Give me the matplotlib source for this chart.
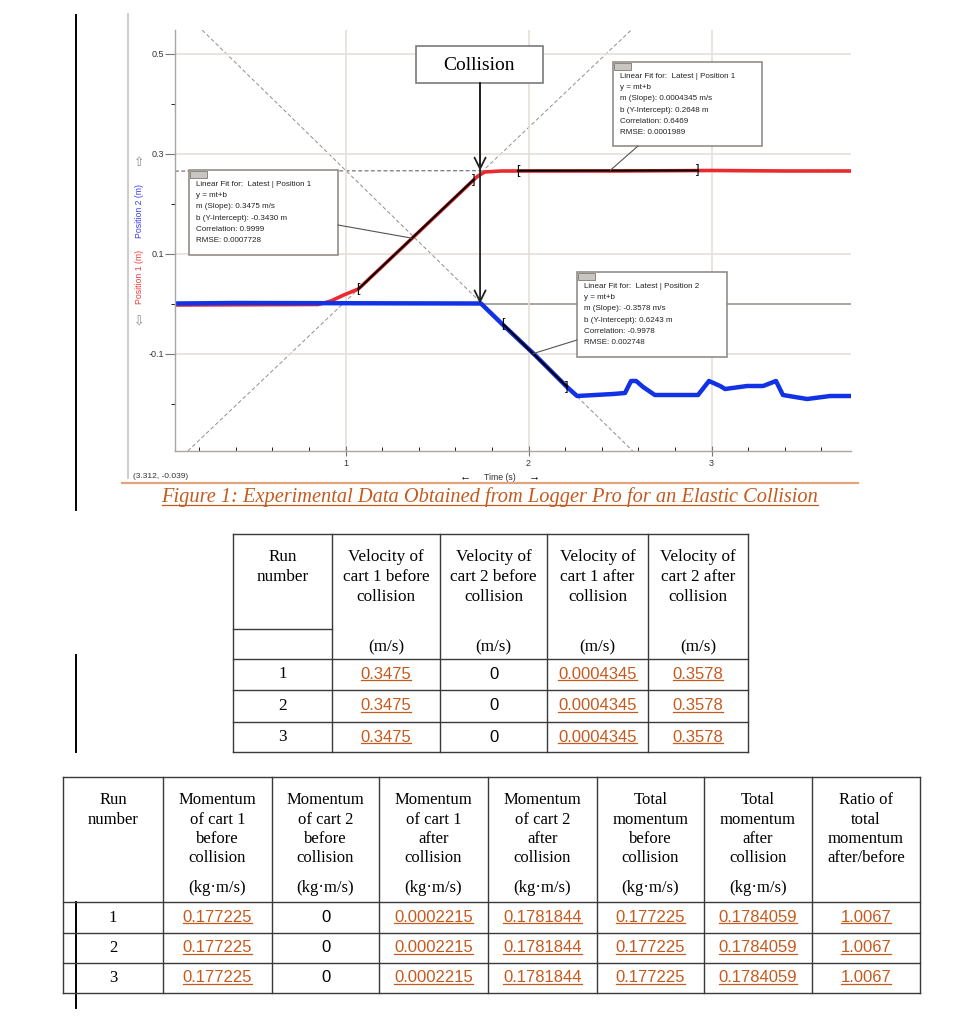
import numpy as np
import matplotlib
matplotlib.use('Agg')
import matplotlib.pyplot as plt
from matplotlib.patches import Rectangle, ConnectionPatch


# Logger Pro graph
red_t = [0.068, 0.85, 0.92, 0.99, 1.07, 1.40, 1.72, 1.76, 1.85, 2.50, 3.00, 3.40, 3.762]
red_y = [-0.003, -0.002, 0.005, 0.017, 0.029, 0.143, 0.254, 0.263, 0.265, 0.265, 0.266, 0.265, 0.265]

blue_t = [0.068, 0.40, 1.74, 1.861, 2.035, 2.21, 2.265, 2.462, 2.527, 2.56, 2.588, 2.626,
          2.69, 2.926, 2.986, 3.047, 3.074, 3.194, 3.282, 3.352, 3.39, 3.522, 3.648, 3.762]
blue_y = [0.0, 0.001, 0.0, -0.043, -0.103, -0.167, -0.185, -0.181, -0.179, -0.155, -0.155, -0.167,
          -0.183, -0.183, -0.155, -0.165, -0.171, -0.165, -0.165, -0.155, -0.183, -0.191, -0.185, -0.185]

fit_series = ['Position 1', 'Position 1', 'Position 2']
fit_slope = [0.3475, 0.0004345, -0.3578]
fit_icept = [-0.3430, 0.2648, 0.6243]
fit_corr = ['0.9999', '0.6469', '-0.9978']
fit_rmse = ['0.0007728', '0.0001989', '0.002748']
fit_start = [1.07, 1.943, 1.861]
fit_end = [1.70, 2.926, 2.21]
fit_point = [1.363, 2.445, 2.025]      # where the leader line of each box lands
collision_t = 1.735
cursor_text = '(3.312, -0.039)'

# tables
runs = [1, 2, 3]
v1_before = [0.3475, 0.3475, 0.3475]
v2_before = [0, 0, 0]
v1_after = [0.0004345, 0.0004345, 0.0004345]
v2_after = [0.3578, 0.3578, 0.3578]

p1_before = [0.177225, 0.177225, 0.177225]
p2_before = [0, 0, 0]
p1_after = [0.0002215, 0.0002215, 0.0002215]
p2_after = [0.1781844, 0.1781844, 0.1781844]
ptot_before = [0.177225, 0.177225, 0.177225]
ptot_after = [0.1784059, 0.1784059, 0.1784059]
ratio = [1.0067, 1.0067, 1.0067]

t1_head = [['Run', 'number'], ['Velocity of', 'cart 1 before', 'collision'],
           ['Velocity of', 'cart 2 before', 'collision'], ['Velocity of', 'cart 1 after', 'collision'],
           ['Velocity of', 'cart 2 after', 'collision']]
t1_units = ['', '(m/s)', '(m/s)', '(m/s)', '(m/s)']
t2_head = [['Run', 'number'], ['Momentum', 'of cart 1', 'before', 'collision'],
           ['Momentum', 'of cart 2', 'before', 'collision'], ['Momentum', 'of cart 1', 'after', 'collision'],
           ['Momentum', 'of cart 2', 'after', 'collision'], ['Total', 'momentum', 'before', 'collision'],
           ['Total', 'momentum', 'after', 'collision'], ['Ratio of', 'total', 'momentum', 'after/before']]
t2_units = ['', '(kg\u00b7m/s)', '(kg\u00b7m/s)', '(kg\u00b7m/s)', '(kg\u00b7m/s)', '(kg\u00b7m/s)',
            '(kg\u00b7m/s)', '']

caption = 'Figure 1: Experimental Data Obtained from Logger Pro for an Elastic Collision'

ORANGE = '#c55a1e'
SERIF = 'Liberation Serif'
SANS = ['Liberation Sans', 'DejaVu Sans']

fig = plt.figure(figsize=(9.75, 10.24), dpi=100)
W, H = 975, 1024


def px_axes(x0, y0, x1, y1, **kw):
    return fig.add_axes([x0 / W, 1 - y1 / H, (x1 - x0) / W, (y1 - y0) / H], **kw)


# ---- graph ----
ax = px_axes(175, 30, 851, 451, zorder=1)
ax.set_xlim(0.068, 3.762)
ax.set_ylim(-0.295, 0.547)
for s in ['top', 'right']:
    ax.spines[s].set_visible(False)
for s in ['left', 'bottom']:
    ax.spines[s].set_color('#aaa69f')
    ax.spines[s].set_linewidth(1.0)

ax.set_xticks([1, 2, 3])
ax.set_xticks(np.arange(0.2, 3.7, 0.2), minor=True)
ax.set_yticks([0.5, 0.3, 0.1, -0.1])
ax.set_yticklabels(['0.5', '0.3', '0.1', '-0.1'])
ax.set_yticks([0.4, 0.2, 0.0, -0.2], minor=True)
ax.tick_params(axis='both', labelsize=6.5, labelcolor='#333333', color='#777777', width=0.8)
ax.tick_params(axis='x', which='major', direction='inout', length=7, pad=2)
ax.tick_params(axis='x', which='minor', direction='in', length=3)
ax.tick_params(axis='y', which='major', direction='out', length=7, pad=1)
ax.tick_params(axis='y', which='minor', direction='out', length=3)
for lab in ax.get_xticklabels() + ax.get_yticklabels():
    lab.set_family(SANS)
ax.grid(which='major', color='#e6dfd8', lw=1.2, zorder=0)
ax.axhline(0, color='#a39f97', lw=1.3, zorder=1)

for m, b, k in zip(fit_slope, fit_icept, range(3)):
    ax.axline((0, b), slope=m, color='#505050' if k == 1 else '#8f8f8f',
              lw=0.7, ls=(0, (4, 2.5)), zorder=1.5)

ax.plot(red_t, red_y, color='#ea2a2e', lw=2.6, solid_joinstyle='round', zorder=2)
ax.plot(blue_t, blue_y, color='#1232e6', lw=3.2, solid_joinstyle='round', zorder=2.5)

for m, b, t0, t1 in zip(fit_slope, fit_icept, fit_start, fit_end):
    ax.plot([t0, t1], [m * t0 + b, m * t1 + b], color='black', lw=1.5, zorder=3)
    ax.text(t0, m * t0 + b, '[', fontsize=9, ha='center', va='center', zorder=4, family=SANS)
    ax.text(t1, m * t1 + b, ']', fontsize=9, ha='center', va='center', zorder=4, family=SANS)

# ---- overlay in page pixels ----
ov = px_axes(0, 0, W, H, zorder=5)
ov.set_xlim(0, W)
ov.set_ylim(H, 0)
ov.axis('off')
ov.patch.set_alpha(0)

ov.plot([128, 128], [14, 478], color='#cdc9c4', lw=1.3)
ov.text(139, 163, '\u21e7', fontsize=9, color='#888888', ha='center', va='center', family=SANS)
ov.text(139, 323, '\u21e9', fontsize=9, color='#888888', ha='center', va='center', family=SANS)
ov.text(139, 211, 'Position 2 (m)', fontsize=6.3, color='#3b3bf0', rotation=90,
        ha='center', va='center', family=SANS)
ov.text(139, 277, 'Position 1 (m)', fontsize=6.3, color='#f03b3b', rotation=90,
        ha='center', va='center', family=SANS)
ov.text(133, 477, cursor_text, fontsize=6, color='#333333', va='center', family=SANS)
ov.text(500, 477, 'Time (s)', fontsize=6.3, color='#333333', ha='center', va='center', family=SANS)
ov.text(465, 476, '\u2190', fontsize=8, fontweight='bold', ha='center', va='center', family=SANS)
ov.text(534, 476, '\u2192', fontsize=8, fontweight='bold', ha='center', va='center', family=SANS)

# fit boxes
boxes = [(189, 170, 149, 85), (613, 62, 149, 84), (577, 272, 150, 85)]
anchors = [(338, 225), (638, 146), (577, 340)]
for k, (bx, by, bw, bh) in enumerate(boxes):
    m, b = fit_slope[k], fit_icept[k]
    tp = fit_point[k]
    con = ConnectionPatch(xyA=anchors[k], coordsA=ov.transData, xyB=(tp, m * tp + b),
                          coordsB=ax.transData, color='#555555', lw=0.8, zorder=6)
    fig.add_artist(con)
    ov.add_patch(Rectangle((bx, by), bw, bh, fc='white', ec='#8a847e', lw=1.1, zorder=7))
    ov.add_patch(Rectangle((bx + 1, by + 1), 17, 7, fc='#c9c5c0', ec='#7d7872', lw=0.6, zorder=8))
    lines = ['Linear Fit for:  Latest | ' + fit_series[k], 'y = mt+b',
             'm (Slope): %s m/s' % repr(m), 'b (Y-Intercept): %.4f m' % b,
             'Correlation: ' + fit_corr[k], 'RMSE: ' + fit_rmse[k]]
    for i, s in enumerate(lines):
        ov.text(bx + 7, by + 14 + i * 11.4, s, fontsize=5.8, color='#222222',
                va='center', family=SANS, zorder=8)

# collision label and arrows
ov.add_patch(Rectangle((416, 46), 127, 37, fc='white', ec='#7a7a7a', lw=1.2, zorder=7))
ov.text(479.5, 65, 'Collision', fontsize=14, family=SERIF, ha='center', va='center', zorder=8)
for yv in [0.0, fit_slope[1] * collision_t + fit_icept[1]]:
    arr = ConnectionPatch(xyA=(480, 83), coordsA=ov.transData, xyB=(collision_t, yv),
                          coordsB=ax.transData, arrowstyle='->,head_length=0.8,head_width=0.4',
                          color='#222222', lw=1.3, zorder=6, shrinkA=0, shrinkB=0)
    fig.add_artist(arr)

# caption
ov.plot([122, 858], [483, 483], color='#e3a47e', lw=1.6)
cap = ov.text(490, 497, caption, fontsize=14.7, family=SERIF, style='italic',
              color=ORANGE, ha='center', va='center')

# change bars
for y0, y1 in [(15, 510), (655, 752), (902, 1008)]:
    ov.plot([76, 76], [y0, y1], color='black', lw=1.4)

underlined = [cap]


def cell_value(x, y, v):
    if v == 0:
        ov.text(x, y, '0', fontsize=12, family=SANS, ha='center', va='center')
    else:
        t = ov.text(x, y, str(v), fontsize=12, family=SANS, color=ORANGE, ha='center', va='center')
        underlined.append(t)


def grid_lines(cols, rows, top, partial=None):
    for y in rows:
        ov.plot([cols[0], cols[-1]], [y, y], color='#3a3a3a', lw=1.0)
    if partial:
        ov.plot([cols[0], cols[1]], [partial, partial], color='#3a3a3a', lw=1.0)
    for x in cols:
        ov.plot([x, x], [top, rows[-1]], color='#3a3a3a', lw=1.0)


# table 1
cols1 = [233, 332, 440, 547, 648, 748]
rows1 = [534, 659, 690, 722, 752]
grid_lines(cols1, rows1, 534, partial=629)
t1_cols = [runs, v1_before, v2_before, v1_after, v2_after]
for c in range(5):
    xc = (cols1[c] + cols1[c + 1]) / 2
    for i, s in enumerate(t1_head[c]):
        ov.text(xc, 557 + i * 20, s, fontsize=12.3, family=SERIF, ha='center', va='center')
    if t1_units[c]:
        ov.text(xc, 647, t1_units[c], fontsize=12.3, family=SERIF, ha='center', va='center')
    for r in range(3):
        yc = (rows1[r + 1] + rows1[r + 2]) / 2
        if c == 0:
            ov.text(xc, yc, str(t1_cols[c][r]), fontsize=12.3, family=SERIF, ha='center', va='center')
        else:
            cell_value(xc, yc, t1_cols[c][r])

# table 2
cols2 = [63, 163, 272, 379, 488, 597, 704, 812, 920]
rows2 = [777, 902, 933, 963, 993]
grid_lines(cols2, rows2, 777)
t2_cols = [runs, p1_before, p2_before, p1_after, p2_after, ptot_before, ptot_after, ratio]
for c in range(8):
    xc = (cols2[c] + cols2[c + 1]) / 2
    for i, s in enumerate(t2_head[c]):
        ov.text(xc, 800 + i * 19.5, s, fontsize=12, family=SERIF, ha='center', va='center')
    if t2_units[c]:
        ov.text(xc, 888, t2_units[c], fontsize=12, family=SERIF, ha='center', va='center')
    for r in range(3):
        yc = (rows2[r + 1] + rows2[r + 2]) / 2
        if c == 0:
            ov.text(xc, yc, str(t2_cols[c][r]), fontsize=12, family=SERIF, ha='center', va='center')
        else:
            cell_value(xc, yc, t2_cols[c][r])

# underline the hyperlink style texts
fig.canvas.draw()
inv = ov.transData.inverted()
for t in underlined:
    bb = t.get_window_extent()
    (x0, y0), (x1, _) = inv.transform([[bb.x0, bb.y0 + 2], [bb.x1, bb.y0 + 2]])
    ov.plot([x0, x1], [y0, y0], color=t.get_color(), lw=0.9)

fig.savefig('out.png', dpi=100, facecolor='white')
